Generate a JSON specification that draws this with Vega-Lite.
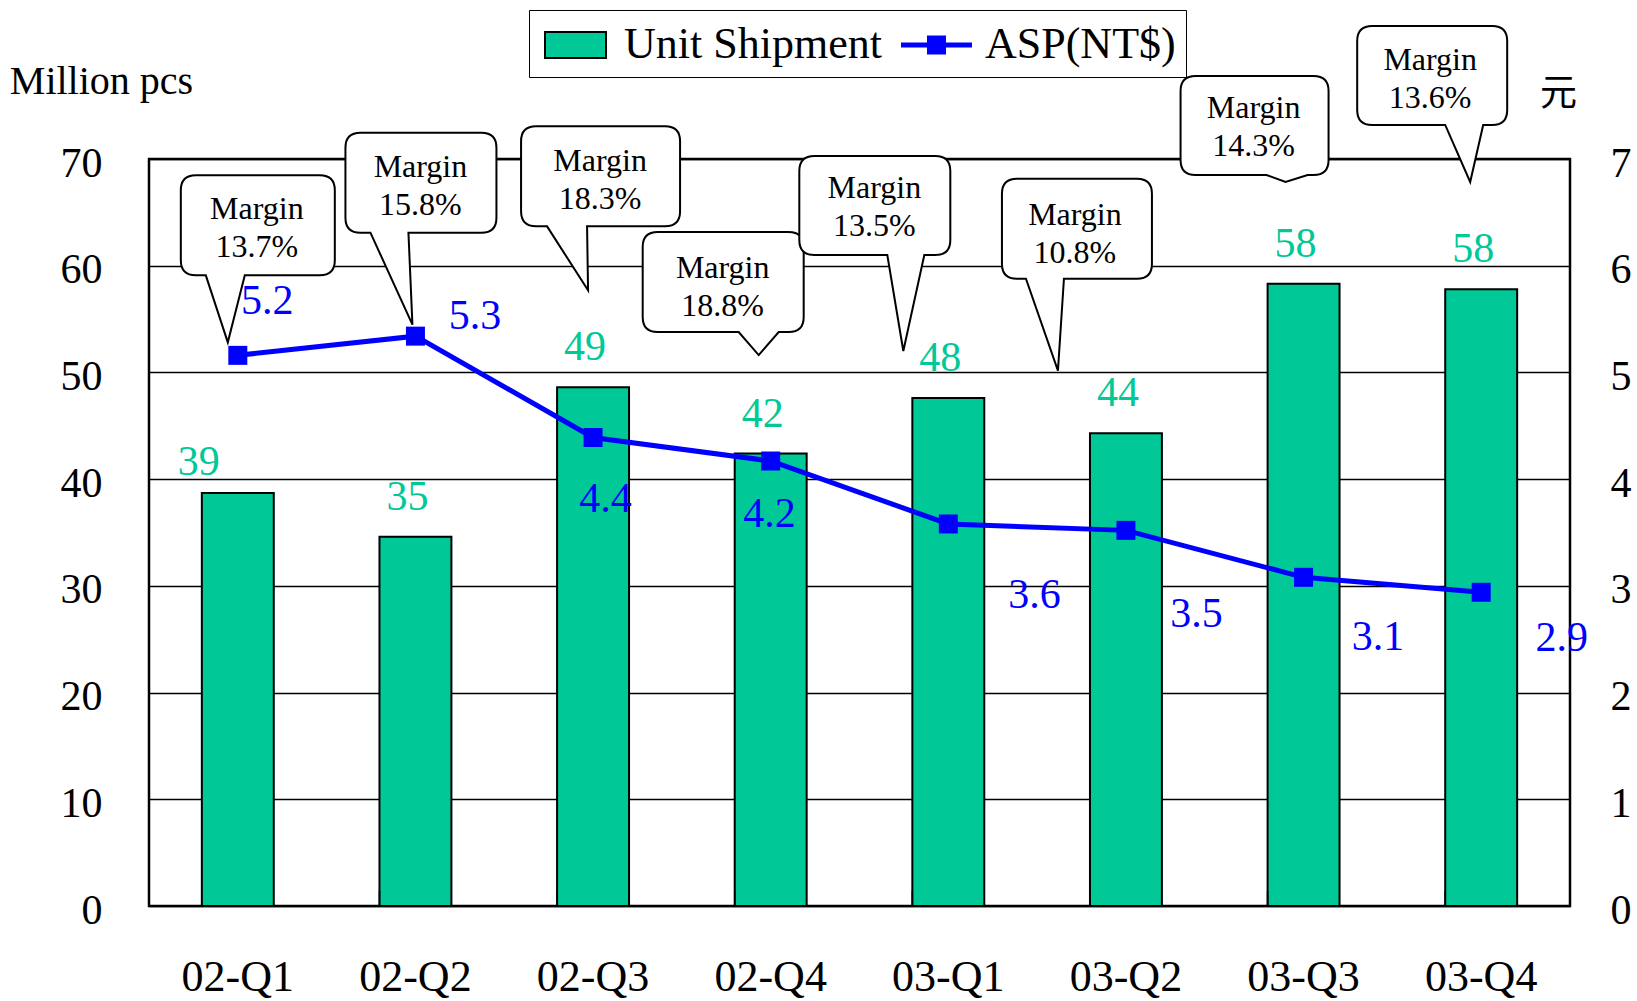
{
  "$schema": "https://vega.github.io/schema/vega-lite/v6.json",
  "width": 1421,
  "height": 747,
  "autosize": "none",
  "padding": {"left": 149, "top": 159, "right": 67, "bottom": 95},
  "background": "white",
  "config": {
    "font": "Liberation Serif",
    "view": {"stroke": "black", "strokeWidth": 2.5},
    "axis": {"labelColor": "black", "titleColor": "black", "labelFont": "Liberation Serif", "titleFont": "Liberation Serif", "titleFontWeight": "normal"},
    "text": {"font": "Liberation Serif"}
  },
  "data": {
    "values": [
      {"quarter": "02-Q1", "units": 38.7, "asp": 5.16, "margin": 0.137},
      {"quarter": "02-Q2", "units": 34.6, "asp": 5.34, "margin": 0.158},
      {"quarter": "02-Q3", "units": 48.6, "asp": 4.39, "margin": 0.183},
      {"quarter": "02-Q4", "units": 42.4, "asp": 4.17, "margin": 0.188},
      {"quarter": "03-Q1", "units": 47.6, "asp": 3.58, "margin": 0.135},
      {"quarter": "03-Q2", "units": 44.3, "asp": 3.52, "margin": 0.108},
      {"quarter": "03-Q3", "units": 58.3, "asp": 3.08, "margin": 0.143},
      {"quarter": "03-Q4", "units": 57.8, "asp": 2.94, "margin": 0.136}
    ]
  },
  "encoding": {
    "x": {
      "field": "quarter", "type": "nominal", "sort": null,
      "scale": {"domain": ["02-Q1", "02-Q2", "02-Q3", "02-Q4", "03-Q1", "03-Q2", "03-Q3", "03-Q4"], "paddingInner": 0.595, "paddingOuter": 0.2975},
      "axis": {"title": null, "labelAngle": 0, "labelFontSize": 44, "ticks": false, "tickSize": 0, "domain": false, "labelPadding": 71, "labelBaseline": "middle"}
    }
  },
  "layer": [
    {
      "mark": {"type": "bar", "stroke": "black", "strokeWidth": 2},
      "encoding": {
        "y": {
          "field": "units", "type": "quantitative",
          "scale": {"domain": [0, 70], "nice": false},
          "axis": {"orient": "left", "values": [0, 10, 20, 30, 40, 50, 60, 70], "grid": true, "gridColor": "black", "gridWidth": 1.5, "gridOpacity": 1, "domain": false, "ticks": false, "tickSize": 0, "labelFontSize": 42, "labelPadding": 47, "labelBaseline": "middle", "labelOffset": 4, "title": "Million pcs", "titleAngle": 0, "titleX": -48, "titleY": -78, "titleAlign": "center", "titleBaseline": "middle", "titleFontSize": 40}
        },
        "fill": {
          "datum": "Unit Shipment",
          "scale": {"domain": ["Unit Shipment"], "range": ["#00C896"]},
          "legend": {
            "title": null, "orient": "none", "legendX": 391.5, "legendY": -149, "direction": "horizontal",
            "labelFont": "Liberation Serif", "labelFontSize": 44, "labelColor": "black", "labelOffset": 23.5, "labelLimit": 500,
            "symbolType": "M-1.271,-0.542H1.271V0.542H-1.271Z", "symbolSize": 2304, "symbolStrokeColor": "black", "symbolStrokeWidth": 2, "symbolOpacity": 1,
            "padding": 10
          }
        }
      }
    },
    {
      "transform": [{"filter": "datum.quarter !== '02-Q1'"}],
      "mark": {"type": "rule", "color": "black", "strokeWidth": 1.5},
      "encoding": {
        "x": {"field": "quarter", "type": "nominal", "bandPosition": 0},
        "y": {"datum": 0, "type": "quantitative", "scale": {"domain": [0, 70], "nice": false}, "axis": null},
        "y2": {"datum": 1.4}
      }
    },
    {
      "transform": [{"filter": "datum.quarter !== '02-Q1'"}],
      "mark": {"type": "text", "dx": -8, "dy": -40, "fontSize": 42, "color": "#00C896"},
      "encoding": {
        "y": {"field": "units", "type": "quantitative", "scale": {"domain": [0, 70], "nice": false}, "axis": null},
        "text": {"field": "units", "type": "quantitative", "format": ".0f"}
      }
    },
    {
      "transform": [{"filter": "datum.quarter === '02-Q1'"}],
      "mark": {"type": "text", "dx": -39, "dy": -31, "fontSize": 42, "color": "#00C896"},
      "encoding": {
        "y": {"field": "units", "type": "quantitative", "scale": {"domain": [0, 70], "nice": false}, "axis": null},
        "text": {"field": "units", "type": "quantitative", "format": ".0f"}
      }
    },
    {
      "mark": {"type": "line", "strokeWidth": 5, "color": "#0000FF"},
      "encoding": {
        "y": {
          "field": "asp", "type": "quantitative",
          "scale": {"domain": [0, 7], "nice": false},
          "axis": {"orient": "right", "values": [0, 1, 2, 3, 4, 5, 6, 7], "grid": false, "domain": false, "ticks": false, "tickSize": 0, "labelFontSize": 42, "labelPadding": 40, "labelAlign": "left", "labelBaseline": "middle", "labelOffset": 4, "title": "元", "titleAngle": 0, "titleX": -12, "titleY": -65, "titleAlign": "center", "titleBaseline": "middle", "titleFont": "Noto Sans CJK TC", "titleFontSize": 37}
        }
      }
    },
    {
      "mark": {"type": "point", "shape": "square", "size": 361, "filled": true, "opacity": 1},
      "encoding": {
        "y": {"field": "asp", "type": "quantitative", "scale": {"domain": [0, 7], "nice": false}, "axis": null},
        "color": {
          "datum": "ASP(NT$)",
          "scale": {"domain": ["ASP(NT$)"], "range": ["#0000FF"]},
          "legend": {
            "title": null, "orient": "none", "legendX": 380, "legendY": -149, "direction": "horizontal",
            "labelFont": "Liberation Serif", "labelFontSize": 44, "labelColor": "black", "labelOffset": 23.5, "labelLimit": 500,
            "symbolType": "M-1.479,-0.104H1.479V0.104H-1.479Z M-0.396,-0.396H0.396V0.396H-0.396Z", "symbolSize": 2304, "symbolOffset": 372.5, "symbolOpacity": 1,
            "padding": 10, "strokeColor": "black"
          }
        }
      }
    },
    {
      "transform": [{"filter": "datum.quarter === '02-Q1'"}],
      "layer": [
        {"mark": {"type": "point", "shape": "M-42,-53H82Q97,-53 97,-38V32Q97,47 82,47H7L-10,114L-32,47H-42Q-57,47 -57,32V-38Q-57,-53 -42,-53Z", "size": 4, "filled": true, "fill": "white", "stroke": "black", "strokeWidth": 2, "opacity": 1},
         "encoding": {"y": {"datum": 6.35, "type": "quantitative", "scale": {"domain": [0, 7], "nice": false}, "axis": null}}},
        {"mark": {"type": "text", "text": "Margin", "dx": 19, "dy": -19, "fontSize": 32, "color": "black"},
         "encoding": {"y": {"datum": 6.35, "type": "quantitative", "scale": {"domain": [0, 7], "nice": false}, "axis": null}}},
        {"mark": {"type": "text", "dx": 19, "dy": 19, "fontSize": 32, "color": "black"},
         "encoding": {"y": {"datum": 6.35, "type": "quantitative", "scale": {"domain": [0, 7], "nice": false}, "axis": null}, "text": {"field": "margin", "type": "quantitative", "format": ".1%"}}},
        {"mark": {"type": "text", "dx": 29.5, "dy": -54.6, "fontSize": 42, "color": "#0000FF"},
         "encoding": {"y": {"field": "asp", "type": "quantitative", "scale": {"domain": [0, 7], "nice": false}, "axis": null}, "text": {"field": "asp", "type": "quantitative", "format": ".1f"}}}
      ]
    },
    {
      "transform": [{"filter": "datum.quarter === '02-Q2'"}],
      "layer": [
        {"mark": {"type": "point", "shape": "M-55,-53H66Q81,-53 81,-38V32Q81,47 66,47H-7L-3,139L-45,47H-55Q-70,47 -70,32V-38Q-70,-53 -55,-53Z", "size": 4, "filled": true, "fill": "white", "stroke": "black", "strokeWidth": 2, "opacity": 1},
         "encoding": {"y": {"datum": 6.75, "type": "quantitative", "scale": {"domain": [0, 7], "nice": false}, "axis": null}}},
        {"mark": {"type": "text", "text": "Margin", "dx": 5, "dy": -19, "fontSize": 32, "color": "black"},
         "encoding": {"y": {"datum": 6.75, "type": "quantitative", "scale": {"domain": [0, 7], "nice": false}, "axis": null}}},
        {"mark": {"type": "text", "dx": 5, "dy": 19, "fontSize": 32, "color": "black"},
         "encoding": {"y": {"datum": 6.75, "type": "quantitative", "scale": {"domain": [0, 7], "nice": false}, "axis": null}, "text": {"field": "margin", "type": "quantitative", "format": ".1%"}}},
        {"mark": {"type": "text", "dx": 59.6, "dy": -19.8, "fontSize": 42, "color": "#0000FF"},
         "encoding": {"y": {"field": "asp", "type": "quantitative", "scale": {"domain": [0, 7], "nice": false}, "axis": null}, "text": {"field": "asp", "type": "quantitative", "format": ".1f"}}}
      ]
    },
    {
      "transform": [{"filter": "datum.quarter === '02-Q3'"}],
      "layer": [
        {"mark": {"type": "point", "shape": "M-57,-54H72Q87,-54 87,-39V31Q87,46 72,46H-6L-5,110L-46,46H-57Q-72,46 -72,31V-39Q-72,-54 -57,-54Z", "size": 4, "filled": true, "fill": "white", "stroke": "black", "strokeWidth": 2, "opacity": 1},
         "encoding": {"y": {"datum": 6.8, "type": "quantitative", "scale": {"domain": [0, 7], "nice": false}, "axis": null}}},
        {"mark": {"type": "text", "text": "Margin", "dx": 7, "dy": -19, "fontSize": 32, "color": "black"},
         "encoding": {"y": {"datum": 6.8, "type": "quantitative", "scale": {"domain": [0, 7], "nice": false}, "axis": null}}},
        {"mark": {"type": "text", "dx": 7, "dy": 19, "fontSize": 32, "color": "black"},
         "encoding": {"y": {"datum": 6.8, "type": "quantitative", "scale": {"domain": [0, 7], "nice": false}, "axis": null}, "text": {"field": "margin", "type": "quantitative", "format": ".1%"}}},
        {"mark": {"type": "text", "dx": 12.4, "dy": 61.5, "fontSize": 42, "color": "#0000FF"},
         "encoding": {"y": {"field": "asp", "type": "quantitative", "scale": {"domain": [0, 7], "nice": false}, "axis": null}, "text": {"field": "asp", "type": "quantitative", "format": ".1f"}}}
      ]
    },
    {
      "transform": [{"filter": "datum.quarter === '02-Q4'"}],
      "layer": [
        {"mark": {"type": "point", "shape": "M-113,-55H18Q33,-55 33,-40V30Q33,45 18,45H8L-12,68L-32,45H-113Q-128,45 -128,30V-40Q-128,-55 -113,-55Z", "size": 4, "filled": true, "fill": "white", "stroke": "black", "strokeWidth": 2, "opacity": 1},
         "encoding": {"y": {"datum": 5.8, "type": "quantitative", "scale": {"domain": [0, 7], "nice": false}, "axis": null}}},
        {"mark": {"type": "text", "text": "Margin", "dx": -48, "dy": -19, "fontSize": 32, "color": "black"},
         "encoding": {"y": {"datum": 5.8, "type": "quantitative", "scale": {"domain": [0, 7], "nice": false}, "axis": null}}},
        {"mark": {"type": "text", "dx": -48, "dy": 19, "fontSize": 32, "color": "black"},
         "encoding": {"y": {"datum": 5.8, "type": "quantitative", "scale": {"domain": [0, 7], "nice": false}, "axis": null}, "text": {"field": "margin", "type": "quantitative", "format": ".1%"}}},
        {"mark": {"type": "text", "dx": -1.3, "dy": 52.6, "fontSize": 42, "color": "#0000FF"},
         "encoding": {"y": {"field": "asp", "type": "quantitative", "scale": {"domain": [0, 7], "nice": false}, "axis": null}, "text": {"field": "asp", "type": "quantitative", "format": ".1f"}}}
      ]
    },
    {
      "transform": [{"filter": "datum.quarter === '03-Q1'"}],
      "layer": [
        {"mark": {"type": "point", "shape": "M-134,-51H-13Q2,-51 2,-36V33Q2,48 -13,48H-24L-45,144L-61,48H-134Q-149,48 -149,33V-36Q-149,-51 -134,-51Z", "size": 4, "filled": true, "fill": "white", "stroke": "black", "strokeWidth": 2, "opacity": 1},
         "encoding": {"y": {"datum": 6.55, "type": "quantitative", "scale": {"domain": [0, 7], "nice": false}, "axis": null}}},
        {"mark": {"type": "text", "text": "Margin", "dx": -74, "dy": -19, "fontSize": 32, "color": "black"},
         "encoding": {"y": {"datum": 6.55, "type": "quantitative", "scale": {"domain": [0, 7], "nice": false}, "axis": null}}},
        {"mark": {"type": "text", "dx": -74, "dy": 19, "fontSize": 32, "color": "black"},
         "encoding": {"y": {"datum": 6.55, "type": "quantitative", "scale": {"domain": [0, 7], "nice": false}, "axis": null}, "text": {"field": "margin", "type": "quantitative", "format": ".1%"}}},
        {"mark": {"type": "text", "dx": 86.3, "dy": 71, "fontSize": 42, "color": "#0000FF"},
         "encoding": {"y": {"field": "asp", "type": "quantitative", "scale": {"domain": [0, 7], "nice": false}, "axis": null}, "text": {"field": "asp", "type": "quantitative", "format": ".1f"}}}
      ]
    },
    {
      "transform": [{"filter": "datum.quarter === '03-Q2'"}],
      "layer": [
        {"mark": {"type": "point", "shape": "M-109,-55H11Q26,-55 26,-40V30Q26,45 11,45H-62L-68,137L-100,45H-109Q-124,45 -124,30V-40Q-124,-55 -109,-55Z", "size": 4, "filled": true, "fill": "white", "stroke": "black", "strokeWidth": 2, "opacity": 1},
         "encoding": {"y": {"datum": 6.3, "type": "quantitative", "scale": {"domain": [0, 7], "nice": false}, "axis": null}}},
        {"mark": {"type": "text", "text": "Margin", "dx": -51, "dy": -19, "fontSize": 32, "color": "black"},
         "encoding": {"y": {"datum": 6.3, "type": "quantitative", "scale": {"domain": [0, 7], "nice": false}, "axis": null}}},
        {"mark": {"type": "text", "dx": -51, "dy": 19, "fontSize": 32, "color": "black"},
         "encoding": {"y": {"datum": 6.3, "type": "quantitative", "scale": {"domain": [0, 7], "nice": false}, "axis": null}, "text": {"field": "margin", "type": "quantitative", "format": ".1%"}}},
        {"mark": {"type": "text", "dx": 70.5, "dy": 83.5, "fontSize": 42, "color": "#0000FF"},
         "encoding": {"y": {"field": "asp", "type": "quantitative", "scale": {"domain": [0, 7], "nice": false}, "axis": null}, "text": {"field": "asp", "type": "quantitative", "format": ".1f"}}}
      ]
    },
    {
      "transform": [{"filter": "datum.quarter === '03-Q3'"}],
      "layer": [
        {"mark": {"type": "point", "shape": "M-108,-51H10Q25,-51 25,-36V33Q25,48 10,48H4L-18,55L-37,48H-108Q-123,48 -123,33V-36Q-123,-51 -108,-51Z", "size": 4, "filled": true, "fill": "white", "stroke": "black", "strokeWidth": 2, "opacity": 1},
         "encoding": {"y": {"datum": 7.3, "type": "quantitative", "scale": {"domain": [0, 7], "nice": false}, "axis": null}}},
        {"mark": {"type": "text", "text": "Margin", "dx": -50, "dy": -19, "fontSize": 32, "color": "black"},
         "encoding": {"y": {"datum": 7.3, "type": "quantitative", "scale": {"domain": [0, 7], "nice": false}, "axis": null}}},
        {"mark": {"type": "text", "dx": -50, "dy": 19, "fontSize": 32, "color": "black"},
         "encoding": {"y": {"datum": 7.3, "type": "quantitative", "scale": {"domain": [0, 7], "nice": false}, "axis": null}, "text": {"field": "margin", "type": "quantitative", "format": ".1%"}}},
        {"mark": {"type": "text", "dx": 74.4, "dy": 59.5, "fontSize": 42, "color": "#0000FF"},
         "encoding": {"y": {"field": "asp", "type": "quantitative", "scale": {"domain": [0, 7], "nice": false}, "axis": null}, "text": {"field": "asp", "type": "quantitative", "format": ".1f"}}}
      ]
    },
    {
      "transform": [{"filter": "datum.quarter === '03-Q4'"}],
      "layer": [
        {"mark": {"type": "point", "shape": "M-109,-53H11Q26,-53 26,-38V31Q26,46 11,46H2L-11,103L-36,46H-109Q-124,46 -124,31V-38Q-124,-53 -109,-53Z", "size": 4, "filled": true, "fill": "white", "stroke": "black", "strokeWidth": 2, "opacity": 1},
         "encoding": {"y": {"datum": 7.75, "type": "quantitative", "scale": {"domain": [0, 7], "nice": false}, "axis": null}}},
        {"mark": {"type": "text", "text": "Margin", "dx": -51, "dy": -19, "fontSize": 32, "color": "black"},
         "encoding": {"y": {"datum": 7.75, "type": "quantitative", "scale": {"domain": [0, 7], "nice": false}, "axis": null}}},
        {"mark": {"type": "text", "dx": -51, "dy": 19, "fontSize": 32, "color": "black"},
         "encoding": {"y": {"datum": 7.75, "type": "quantitative", "scale": {"domain": [0, 7], "nice": false}, "axis": null}, "text": {"field": "margin", "type": "quantitative", "format": ".1%"}}},
        {"mark": {"type": "text", "dx": 80.6, "dy": 45.6, "fontSize": 42, "color": "#0000FF"},
         "encoding": {"y": {"field": "asp", "type": "quantitative", "scale": {"domain": [0, 7], "nice": false}, "axis": null}, "text": {"field": "asp", "type": "quantitative", "format": ".1f"}}}
      ]
    }
  ],
  "resolve": {"scale": {"y": "independent"}}
}
